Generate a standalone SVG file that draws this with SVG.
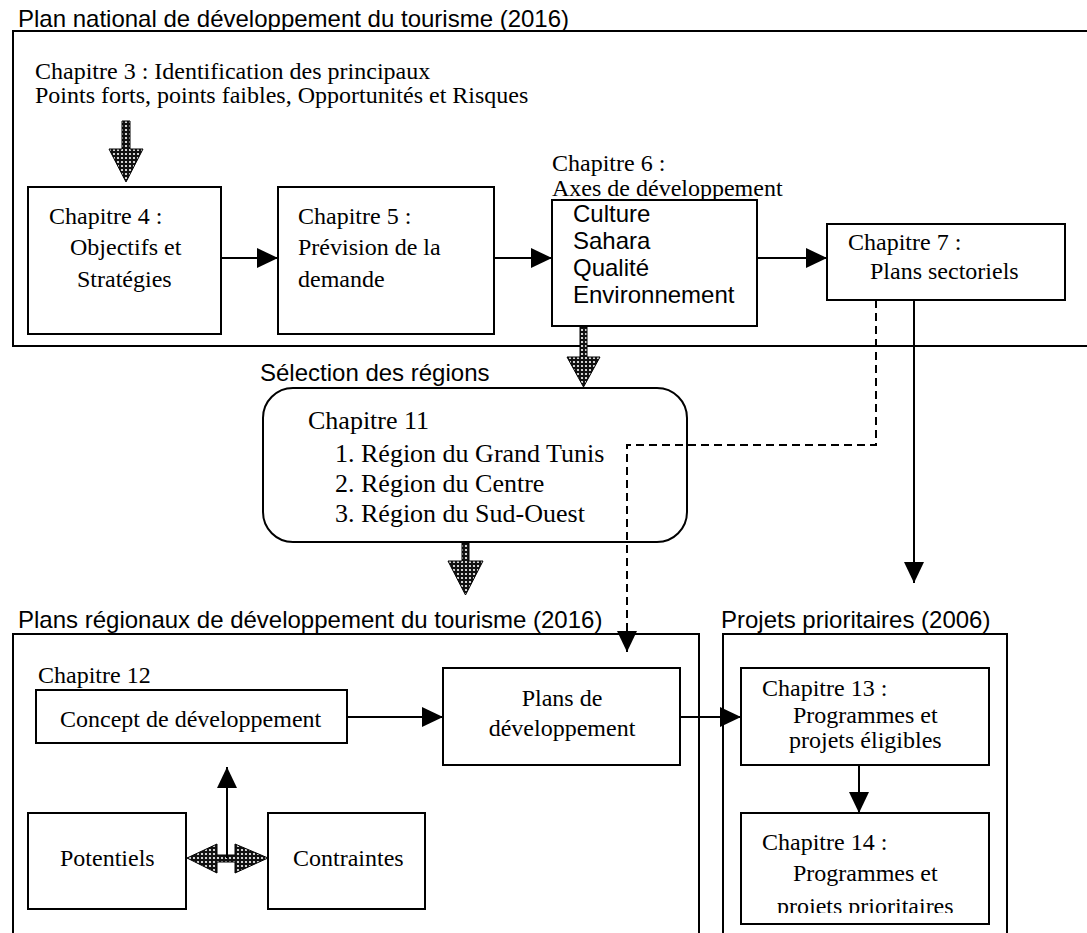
<svg xmlns="http://www.w3.org/2000/svg" width="1087" height="933" viewBox="0 0 1087 933">
<defs>
<style>
.box{fill:#fff;stroke:#000;stroke-width:2}
.frame{fill:none;stroke:#000;stroke-width:2}
.ar{font-family:"Liberation Sans",Arial,sans-serif;font-size:24px;fill:#000}
.tm{font-family:"Liberation Serif","Times New Roman",serif;font-size:24px;fill:#000}
.tm26{font-family:"Liberation Serif","Times New Roman",serif;font-size:26px;fill:#000}
.ln{fill:none;stroke:#000;stroke-width:2}
.dash{fill:none;stroke:#000;stroke-width:2;stroke-dasharray:8 5}
.hatch{fill:url(#dots);stroke:#000;stroke-width:1}
</style>
<pattern id="dots" width="4" height="4" patternUnits="userSpaceOnUse">
<rect width="4" height="4" fill="#111"/>
<circle cx="2" cy="2" r="1.1" fill="#fff"/>
</pattern>
<marker id="ah" markerUnits="userSpaceOnUse" markerWidth="21" markerHeight="20" refX="21" refY="10" orient="auto">
<path d="M0,0 L21,10 L0,20 z" fill="#000"/>
</marker>
<clipPath id="clip14"><rect x="741" y="813" width="248" height="100"/></clipPath>
</defs>

<g id="national">
<text class="ar" x="18" y="27">Plan national de développement du tourisme (2016)</text>
<rect class="frame" x="13" y="31" width="1090" height="315"/>
</g>

<g id="ch3">
<text class="tm" x="35" y="79">Chapitre 3 : Identification des principaux</text>
<text class="tm" x="35" y="103">Points forts, points faibles, Opportunités et Risques</text>
</g>

<g id="ch4">
<rect class="box" x="28" y="187" width="193" height="147"/>
<text class="tm" x="49" y="224">Chapitre 4 :</text>
<text class="tm" x="70" y="255">Objectifs et</text>
<text class="tm" x="77" y="287">Stratégies</text>
</g>

<g id="ch5">
<rect class="box" x="278" y="187" width="216" height="147"/>
<text class="tm" x="298" y="224">Chapitre 5 :</text>
<text class="tm" x="298" y="255">Prévision de la</text>
<text class="tm" x="298" y="287">demande</text>
</g>

<g id="ch6">
<text class="tm" x="552" y="171">Chapitre 6 :</text>
<text class="tm" x="552" y="196">Axes de développement</text>
<rect class="box" x="552" y="200" width="205" height="126"/>
<text class="ar" x="573" y="222">Culture</text>
<text class="ar" x="573" y="249">Sahara</text>
<text class="ar" x="573" y="276">Qualité</text>
<text class="ar" x="573" y="303">Environnement</text>
</g>

<g id="ch7">
<rect class="box" x="827" y="224" width="238" height="76"/>
<text class="tm" x="848" y="250">Chapitre 7 :</text>
<text class="tm" x="870" y="279">Plans sectoriels</text>
</g>

<g id="ch11">
<text class="ar" x="260" y="381">Sélection des régions</text>
<rect class="box" x="263" y="388" width="424" height="154" rx="30" ry="30"/>
<text class="tm26" x="308" y="429">Chapitre 11</text>
<text class="tm26" x="335" y="462">1. Région du Grand Tunis</text>
<text class="tm26" x="335" y="492">2. Région du Centre</text>
<text class="tm26" x="335" y="522">3. Région du Sud-Ouest</text>
</g>

<g id="regional">
<text class="ar" x="18" y="628">Plans régionaux de développement du tourisme (2016)</text>
<rect class="frame" x="13" y="634" width="686" height="320"/>
</g>

<g id="ch12">
<text class="tm" x="38" y="683">Chapitre 12</text>
<rect class="box" x="36" y="690" width="311" height="53"/>
<text class="tm" x="60" y="727">Concept de développement</text>
</g>

<g id="potentiels">
<rect class="box" x="28" y="813" width="158" height="96"/>
<text class="tm" x="60" y="866">Potentiels</text>
</g>

<g id="contraintes">
<rect class="box" x="268" y="813" width="157" height="96"/>
<text class="tm" x="293" y="866">Contraintes</text>
</g>

<g id="plansdev">
<rect class="box" x="443" y="668" width="237" height="97"/>
<text class="tm" x="562" y="706" text-anchor="middle">Plans de</text>
<text class="tm" x="562" y="736" text-anchor="middle">développement</text>
</g>

<g id="projets">
<text class="ar" x="721" y="628">Projets prioritaires (2006)</text>
<rect class="frame" x="723" y="634" width="284" height="320"/>
</g>

<g id="ch13">
<rect class="box" x="741" y="668" width="248" height="97"/>
<text class="tm" x="762" y="696">Chapitre 13 :</text>
<text class="tm" x="793" y="723">Programmes et</text>
<text class="tm" x="789" y="748">projets éligibles</text>
</g>

<g id="ch14">
<rect class="box" x="741" y="813" width="248" height="111"/>
<text class="tm" x="762" y="850">Chapitre 14 :</text>
<text class="tm" x="793" y="881">Programmes et</text>
<text class="tm" x="777" y="914" clip-path="url(#clip14)">projets prioritaires</text>
</g>

<g id="connectors">
<polygon class="hatch" points="122,121 130,121 130,149 143,149 126,182 109,149 122,149"/>
<polygon class="hatch" points="580,327 587,327 587,357 600,357 583.5,387 567,357 580,357"/>
<polygon class="hatch" points="462,543 469,543 469,561 483,561 465.5,595 448,561 462,561"/>
<polygon class="hatch" points="187,858 217,844 217,855 235,855 235,844 268,858 235,873 235,862 217,862 217,873"/>
<line class="ln" x1="221" y1="258" x2="278" y2="258" marker-end="url(#ah)"/>
<line class="ln" x1="494" y1="258" x2="552" y2="258" marker-end="url(#ah)"/>
<line class="ln" x1="757" y1="258" x2="827" y2="258" marker-end="url(#ah)"/>
<polyline class="dash" points="876,300 876,445 627,445 627,652" marker-end="url(#ah)"/>
<line class="ln" x1="914" y1="300" x2="914" y2="583" marker-end="url(#ah)"/>
<line class="ln" x1="347" y1="717" x2="443" y2="717" marker-end="url(#ah)"/>
<line class="ln" x1="680" y1="717" x2="741" y2="717" marker-end="url(#ah)"/>
<line class="ln" x1="859" y1="765" x2="859" y2="813" marker-end="url(#ah)"/>
<line class="ln" x1="227" y1="858" x2="227" y2="767" marker-end="url(#ah)"/>
</g>
</svg>
